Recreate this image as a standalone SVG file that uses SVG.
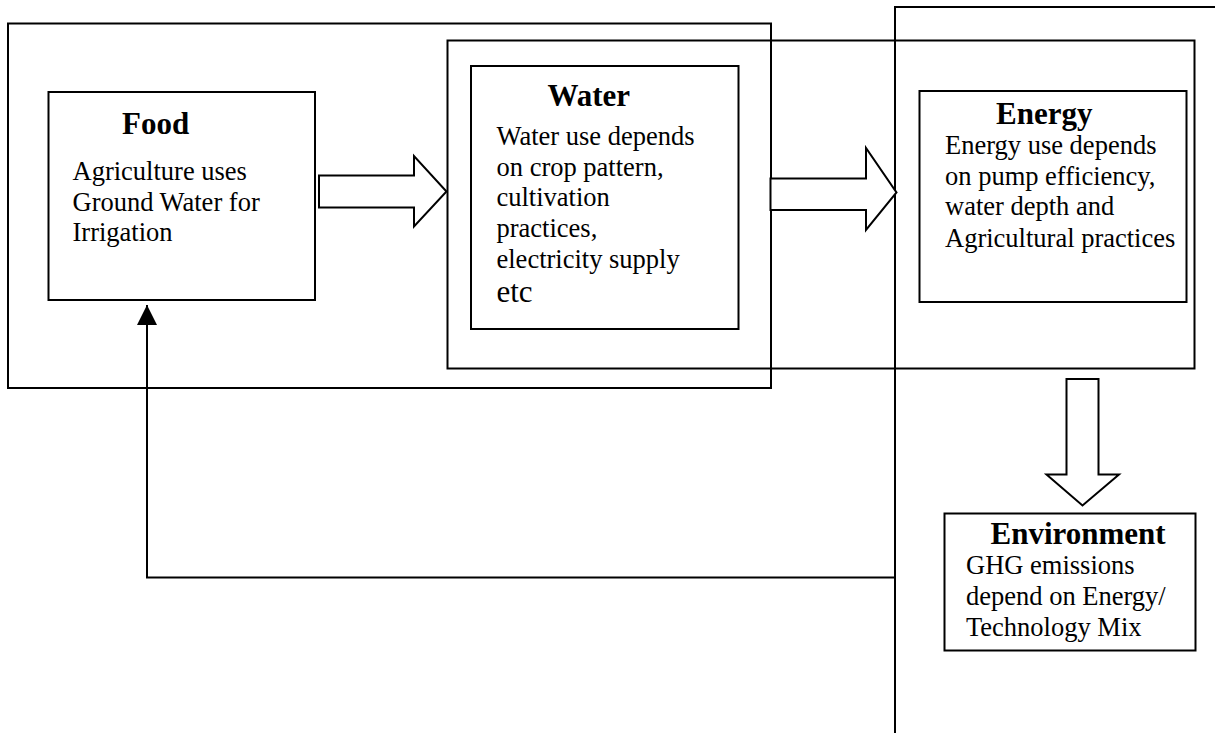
<svg xmlns="http://www.w3.org/2000/svg" width="1215" height="733" viewBox="0 0 1215 733">
<style>
.box{fill:none;stroke:#000;stroke-width:2}
.blk{fill:#fff;stroke:#000;stroke-width:2;stroke-linejoin:miter}
.ln{fill:none;stroke:#000;stroke-width:2}
.t{font-family:"Liberation Serif","Times New Roman",serif;font-weight:bold;font-size:31px;fill:#000}
.b{font-family:"Liberation Serif","Times New Roman",serif;font-size:26.5px;fill:#000}
</style>
<defs>
<marker id="ah" markerWidth="20" markerHeight="20" refX="20" refY="10" orient="auto" markerUnits="userSpaceOnUse" viewBox="0 0 20 20">
<path d="M0,0 L20,10 L0,20 Z" fill="#000"/>
</marker>
</defs>
<rect fill="#fff" width="1215" height="733"/>
<g id="frames">
<rect class="box" x="8" y="23.5" width="763" height="364.5"/>
<rect class="box" x="447.5" y="40.5" width="747" height="328"/>
<path class="ln" d="M1215,7 L895,7 L895,733"/>
</g>
<g id="food">
<rect class="box" x="48.5" y="92" width="266.5" height="208"/>
<text class="t" x="122" y="134">Food</text>
<text class="b" x="72.5" y="180">Agriculture uses</text>
<text class="b" x="72.5" y="210.5">Ground Water for</text>
<text class="b" x="72.5" y="240.5">Irrigation</text>
</g>
<g id="water">
<rect class="box" x="471" y="66" width="267.5" height="263"/>
<text class="t" x="547.5" y="105.5">Water</text>
<text class="b" x="496.5" y="145">Water use depends</text>
<text class="b" x="496.5" y="176">on crop pattern,</text>
<text class="b" x="496.5" y="206">cultivation</text>
<text class="b" x="496.5" y="237">practices,</text>
<text class="b" x="496.5" y="268">electricity supply</text>
<text class="b" x="496.5" y="301.5" style="font-size:31px">etc</text>
</g>
<g id="energy">
<rect class="box" x="919.5" y="91" width="267" height="211"/>
<text class="t" x="996" y="124">Energy</text>
<text class="b" x="945" y="154">Energy use depends</text>
<text class="b" x="945" y="184.5">on pump efficiency,</text>
<text class="b" x="945" y="215">water depth and</text>
<text class="b" x="945" y="246.5">Agricultural practices</text>
</g>
<g id="environment">
<rect class="box" x="944.5" y="513.5" width="251" height="137"/>
<text class="t" x="990.5" y="543.5">Environment</text>
<text class="b" x="966" y="573.5">GHG emissions</text>
<text class="b" x="966" y="605">depend on Energy/</text>
<text class="b" x="966" y="635.5">Technology Mix</text>
</g>
<g id="connectors">
<path class="blk" d="M319,175.5 L414,175.5 L414,156 L446.5,191.5 L414,226.5 L414,207.5 L319,207.5 Z"/>
<path class="blk" d="M770.5,178.5 L866,178.5 L866,148 L896.5,192.5 L866,230 L866,210 L770.5,210 Z"/>
<path class="blk" d="M1066.5,379 L1098.5,379 L1098.5,474.5 L1119,474.5 L1082.5,505.5 L1046.5,474.5 L1066.5,474.5 Z"/>
<path class="ln" d="M895,577.5 L147,577.5 L147,305" marker-end="url(#ah)"/>
</g>
</svg>
